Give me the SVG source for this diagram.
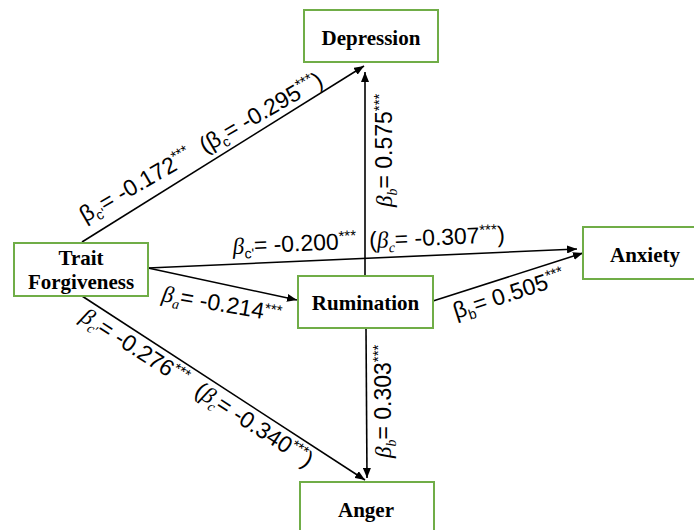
<svg xmlns="http://www.w3.org/2000/svg" width="694" height="530" viewBox="0 0 694 530">
<style>
.box{fill:#fff;stroke:#70AD47;stroke-width:2}
.nl{font-family:"Liberation Serif","Times New Roman",serif;font-weight:bold;font-size:21px;fill:#000;text-anchor:middle}
.cn{stroke:#000;stroke-width:1.6;fill:none;marker-end:url(#ah)}
.lb{font-family:"Liberation Sans",Arial,sans-serif;font-size:23px;fill:#000}
.gi{font-family:"Liberation Serif","Times New Roman",serif;font-style:italic}
.sub{font-size:14px}
.sup{font-size:15px}
</style>
<defs>
<marker id="ah" markerUnits="userSpaceOnUse" markerWidth="10" markerHeight="8" refX="10" refY="4" orient="auto">
<path d="M0,0 L10,4 L0,8 Z" fill="#000"/>
</marker>
</defs>
<rect width="694" height="530" fill="#fff"/>
<g id="connectors">
<line class="cn" x1="82" y1="242" x2="364" y2="66"/>
<line class="cn" x1="365" y1="276" x2="365" y2="72"/>
<line class="cn" x1="148" y1="268" x2="577" y2="249"/>
<line class="cn" x1="148" y1="268" x2="297" y2="300"/>
<line class="cn" x1="433" y1="301" x2="583" y2="253"/>
<line class="cn" x1="82" y1="296" x2="365" y2="480"/>
<line class="cn" x1="366" y1="328" x2="367" y2="478"/>
</g>
<g id="labels">
<text class="lb" transform="translate(85,223) rotate(-30)">β<tspan class="sub" dy="5">c'</tspan><tspan dy="-5">= -0.172</tspan><tspan class="sup" dy="-8">***</tspan><tspan dy="8" dx="13">(β</tspan><tspan class="sub" dy="5">c</tspan><tspan dy="-5">= -0.295</tspan><tspan class="sup" dy="-8">***</tspan><tspan dy="8">)</tspan></text>
<text class="lb" transform="translate(392,207) rotate(-90)"><tspan class="gi">β</tspan><tspan class="sub gi" dy="5">b</tspan><tspan dy="-5">= 0.575</tspan><tspan class="sup" dy="-8">***</tspan></text>
<text class="lb" transform="translate(233,254) rotate(-2.5)"><tspan class="gi">β</tspan><tspan class="sub" dy="5">c'</tspan><tspan dy="-5">= -0.200</tspan><tspan class="sup" dy="-8">***</tspan><tspan dy="8" dx="13">(</tspan><tspan class="gi">β</tspan><tspan class="sub gi" dy="5">c</tspan><tspan dy="-5">= -0.307</tspan><tspan class="sup" dy="-8">***</tspan><tspan dy="8">)</tspan></text>
<text class="lb" transform="translate(161,301) rotate(10)"><tspan class="gi">β</tspan><tspan class="sub gi" dy="5">a</tspan><tspan dy="-5">= -0.214</tspan><tspan class="sup" dy="-6">***</tspan></text>
<text class="lb" transform="translate(456,319) rotate(-18)">β<tspan class="sub" dy="5">b</tspan><tspan dy="-5">= 0.505</tspan><tspan class="sup" dy="-8">***</tspan></text>
<text class="lb" transform="translate(391,458) rotate(-90)"><tspan class="gi">β</tspan><tspan class="sub gi" dy="5">b</tspan><tspan dy="-5">= 0.303</tspan><tspan class="sup" dy="-8">***</tspan></text>
<text class="lb" transform="translate(79,320) rotate(33)"><tspan class="gi">β</tspan><tspan class="sub gi" dy="5">c'</tspan><tspan dy="-5">= -0.276</tspan><tspan class="sup" dy="-8">***</tspan><tspan dy="8" dx="13">(</tspan><tspan class="gi">β</tspan><tspan class="sub gi" dy="5">c</tspan><tspan dy="-5">= -0.340</tspan><tspan class="sup" dy="-8">***</tspan><tspan dy="8">)</tspan></text>
</g>
<g id="depression"><rect class="box" x="304" y="10" width="134" height="52"/><text class="nl" x="371" y="45">Depression</text></g>
<g id="trait-forgiveness"><rect class="box" x="14" y="243" width="134" height="53"/><text class="nl" x="81" y="265">Trait</text><text class="nl" x="81" y="289">Forgiveness</text></g>
<g id="rumination"><rect class="box" x="298" y="276" width="135" height="52"/><text class="nl" x="365.5" y="310">Rumination</text></g>
<g id="anxiety"><rect class="box" x="583" y="227" width="120" height="52"/><text class="nl" x="645" y="262">Anxiety</text></g>
<g id="anger"><rect class="box" x="300" y="482" width="134" height="60"/><text class="nl" x="366" y="517">Anger</text></g>
</svg>
